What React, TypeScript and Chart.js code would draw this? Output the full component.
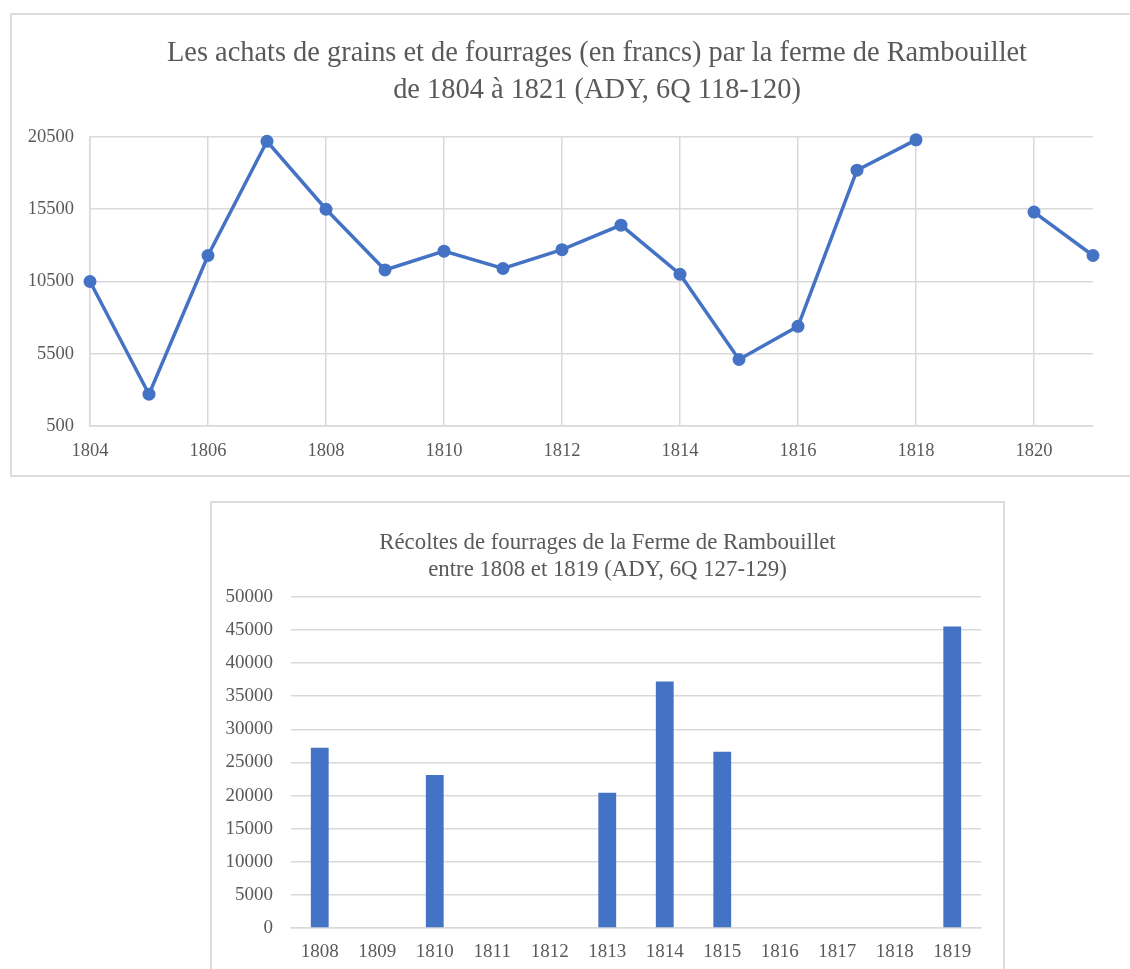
import React, { useEffect, useRef } from "react";
import { Chart, registerables } from "chart.js";

Chart.register(...registerables);
Chart.defaults.font.family = "'Liberation Serif', 'Times New Roman', serif";

// ---------- Data: line chart ----------
const lineTitle = [
  "Les achats de grains et de fourrages (en francs) par la ferme de Rambouillet",
  "de 1804 à 1821 (ADY, 6Q 118-120)",
];
const lineYears = [1804, 1805, 1806, 1807, 1808, 1809, 1810, 1811, 1812, 1813, 1814, 1815, 1816, 1817, 1818, 1819, 1820, 1821];
const lineValues: (number | null)[] = [10500, 2700, 12300, 20200, 15500, 11300, 12600, 11400, 12700, 14400, 11000, 5100, 7400, 18200, 20300, null, 15300, 12300];
const lineYMin = 500;
const lineYMax = 20500;
const lineYStep = 5000;
const lineXStep = 2;

// ---------- Data: bar chart ----------
const barTitle = [
  "Récoltes de fourrages de la Ferme de Rambouillet",
  "entre 1808 et 1819 (ADY, 6Q 127-129)",
];
const barCategories = ["1808", "1809", "1810", "1811", "1812", "1813", "1814", "1815", "1816", "1817", "1818", "1819"];
const barValues: (number | null)[] = [27200, null, 23100, null, null, 20400, 37200, 26600, null, null, null, 45500];
const barYMin = 0;
const barYMax = 50000;
const barYStep = 5000;

const BLUE = "#4472C4";
const TEXT = "#595959";
const GRID = "#d9d9d9";

// invisible right-hand axis that only reserves space, so the title stays centred on the whole frame
function spacerAxis(width: number) {
  return {
    position: "right",
    display: true,
    afterFit: (s: any) => {
      s.width = width;
    },
    ticks: { display: false },
    grid: { display: false, drawTicks: false },
    border: { display: false },
  };
}

function LineChart() {
  const ref = useRef<HTMLCanvasElement>(null);
  useEffect(() => {
    const chart = new Chart(ref.current!, {
      type: "line",
      data: {
        datasets: [
          {
            data: lineYears.map((x, i) => ({ x, y: lineValues[i] })),
            borderColor: BLUE,
            backgroundColor: BLUE,
            borderWidth: 3.5,
            pointRadius: 6.5,
            pointBackgroundColor: BLUE,
            pointBorderWidth: 0,
            spanGaps: false,
            tension: 0,
            clip: false,
            yAxisID: "y",
          },
        ],
      },
      options: {
        responsive: false,
        animation: false,
        layout: { padding: 0 },
        plugins: {
          legend: { display: false },
          tooltip: { enabled: false },
          title: {
            display: true,
            text: lineTitle,
            color: TEXT,
            font: { size: 28.4, lineHeight: 1.32, weight: "normal" },
            padding: { top: 19.5, bottom: 27.5 },
          },
        },
        scales: {
          x: {
            type: "linear",
            min: lineYears[0],
            max: lineYears[lineYears.length - 1],
            afterFit: (s: any) => {
              s.height = 49;
            },
            ticks: {
              stepSize: lineXStep,
              includeBounds: false,
              padding: 14,
              color: TEXT,
              font: { size: 18.5 },
              maxRotation: 0,
              callback: (v: any) => String(v),
            },
            grid: { color: GRID, lineWidth: 1.5, drawTicks: false },
            border: { color: GRID, width: 1.5 },
          },
          y: {
            position: "left",
            min: lineYMin,
            max: lineYMax,
            afterFit: (s: any) => {
              s.width = 78;
            },
            ticks: {
              stepSize: lineYStep,
              padding: 16,
              color: TEXT,
              font: { size: 18.5 },
              callback: (v: any) => String(v),
            },
            grid: { color: GRID, lineWidth: 1.5, drawTicks: false },
            border: { color: GRID, width: 1.5 },
          },
          spacer: spacerAxis(89),
        },
      },
    } as any);
    return () => chart.destroy();
  }, []);
  return <canvas ref={ref} width={1170} height={460} style={{ display: "block" }} />;
}

function BarChart() {
  const ref = useRef<HTMLCanvasElement>(null);
  useEffect(() => {
    const chart = new Chart(ref.current!, {
      type: "bar",
      data: {
        labels: barCategories,
        datasets: [
          {
            data: barValues,
            backgroundColor: BLUE,
            barPercentage: 0.31,
            categoryPercentage: 1,
            yAxisID: "y",
          },
        ],
      },
      options: {
        responsive: false,
        animation: false,
        layout: { padding: 0 },
        plugins: {
          legend: { display: false },
          tooltip: { enabled: false },
          title: {
            display: true,
            text: barTitle,
            color: TEXT,
            font: { size: 22.8, lineHeight: 1.18, weight: "normal" },
            padding: { top: 26.5, bottom: 13.5 },
          },
        },
        scales: {
          x: {
            afterFit: (s: any) => {
              s.height = 51;
            },
            ticks: { padding: 13, color: TEXT, font: { size: 19 }, maxRotation: 0 },
            grid: { display: false, drawTicks: false },
            border: { color: GRID, width: 1.5 },
          },
          y: {
            position: "left",
            min: barYMin,
            max: barYMax,
            afterFit: (s: any) => {
              s.width = 79;
            },
            ticks: {
              stepSize: barYStep,
              padding: 18,
              color: TEXT,
              font: { size: 19 },
              callback: (v: any) => String(v),
            },
            grid: { color: GRID, lineWidth: 1.5, drawTicks: false },
            border: { display: false },
          },
          spacer: spacerAxis(22),
        },
      },
    } as any);
    return () => chart.destroy();
  }, []);
  return <canvas ref={ref} width={791} height={476} style={{ display: "block" }} />;
}

export default function App() {
  return (
    <div
      style={{
        position: "absolute",
        left: 0,
        top: 0,
        width: 1130,
        height: 969,
        overflow: "hidden",
        background: "#ffffff",
      }}
    >
      <div
        style={{
          position: "absolute",
          left: 10,
          top: 13,
          width: 1174,
          height: 464,
          border: "2px solid #dcdcdc",
          boxSizing: "border-box",
        }}
      >
        <LineChart />
      </div>
      <div
        style={{
          position: "absolute",
          left: 210,
          top: 501,
          width: 795,
          height: 480,
          border: "2px solid #dcdcdc",
          boxSizing: "border-box",
        }}
      >
        <BarChart />
      </div>
    </div>
  );
}
